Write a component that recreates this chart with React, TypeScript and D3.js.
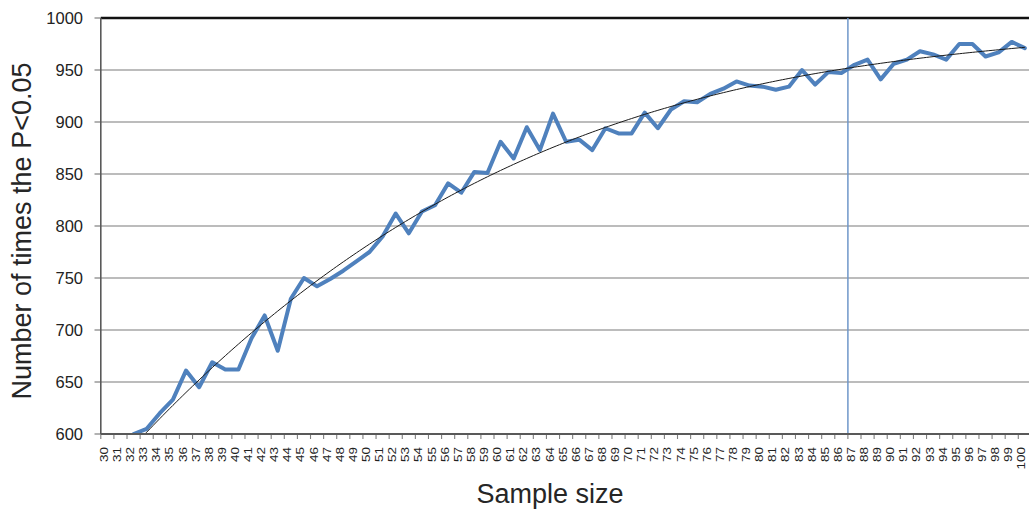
import React from "react";
import * as d3 from "d3";

const categories: number[] = d3.range(30, 101);
const counts: (number | null)[] = [
  null, null, 600, 605, 620, 633, 661, 645, 669, 662,
  662, 692, 714, 680, 730, 750, 742, 749, 757, 766,
  775, 790, 812, 793, 814, 820, 841, 832, 852, 851,
  881, 865, 895, 873, 908, 881, 883, 873, 894, 889,
  889, 909, 894, 912, 920, 919, 927, 932, 939, 935,
  934, 931, 934, 950, 936, 948, 947, 955, 960, 941,
  956, 960, 968, 965, 960, 975, 975, 963, 967, 977,
  971,
];
const yTicks: number[] = [600, 650, 700, 750, 800, 850, 900, 950, 1000];
const markerAfter = 86;
const yTitle = "Number of times the P<0.05";
const xTitle = "Sample size";

// least-squares polynomial (cubic) trendline, as the spreadsheet does
function polyFit(xs: number[], ys: number[], deg: number) {
  const n = deg + 1;
  const A: number[][] = Array.from({ length: n }, () => new Array(n + 1).fill(0));
  const norm = (x: number) => (x - 65) / 35;
  xs.forEach((x, k) => {
    const t = norm(x);
    for (let i = 0; i < n; i++) {
      for (let j = 0; j < n; j++) A[i][j] += Math.pow(t, i + j);
      A[i][n] += ys[k] * Math.pow(t, i);
    }
  });
  for (let c = 0; c < n; c++) {
    let p = c;
    for (let r = c + 1; r < n; r++) if (Math.abs(A[r][c]) > Math.abs(A[p][c])) p = r;
    [A[c], A[p]] = [A[p], A[c]];
    for (let r = 0; r < n; r++) {
      if (r === c) continue;
      const f = A[r][c] / A[c][c];
      for (let k = c; k <= n; k++) A[r][k] -= f * A[c][k];
    }
  }
  const coef = A.map((row, i) => row[n] / row[i]);
  return (x: number) => coef.reduce((s, a, i) => s + a * Math.pow(norm(x), i), 0);
}

export default function App() {
  const W = 1029, H = 509;
  const L = 100.8, T = 18, B = 434;
  const step = 13.107;
  const R = L + categories.length * step;

  const x = d3.scaleBand<number>().domain(categories).range([L, R]).padding(0);
  const y = d3.scaleLinear().domain([600, 1000]).range([B, T]);
  const cx = (c: number) => (x(c) as number) + x.bandwidth() / 2;

  const pts = categories
    .map((c, i) => ({ c, v: counts[i] }))
    .filter((d) => d.v !== null) as { c: number; v: number }[];
  const line = d3
    .line<{ c: number; v: number }>()
    .x((d) => cx(d.c))
    .y((d) => y(d.v));

  const fit = polyFit(pts.map((d) => d.c), pts.map((d) => d.v), 3);
  const trendPts = d3.range(30, 100.001, 0.25).map((c) => ({ c, v: fit(c) }));
  const trendLine = d3
    .line<{ c: number; v: number }>()
    .x((d) => cx(30) + (d.c - 30) * x.step())
    .y((d) => y(d.v));

  const markerX = (x(markerAfter) as number) + x.bandwidth();
  const font = "'Liberation Sans', Arial, sans-serif";

  return (
    <svg width={W} height={H} style={{ position: "absolute", left: 0, top: 0, background: "#fff" }}>
      <defs>
        <clipPath id="plot">
          <rect x={L} y={T} width={R - L} height={B - T} />
        </clipPath>
      </defs>
      {/* gridlines */}
      {yTicks.slice(1, -1).map((t) => (
        <line key={t} x1={L} x2={R} y1={y(t)} y2={y(t)} stroke="#a6a6a6" strokeWidth={1.3} />
      ))}
      {/* y tick marks */}
      {yTicks.map((t) => (
        <line key={"yt" + t} x1={94.5} x2={L} y1={y(t)} y2={y(t)} stroke="#7f7f7f" strokeWidth={1.2} />
      ))}
      {/* top border */}
      <line x1={L} x2={R} y1={T} y2={T} stroke="#111" strokeWidth={2.5} />
      {/* left axis */}
      <line x1={L} x2={L} y1={T} y2={B} stroke="#595959" strokeWidth={1.6} />
      {/* x tick marks */}
      {categories.map((c) => (
        <line key={"xt" + c} x1={x(c) as number} x2={x(c) as number} y1={B} y2={B + 5} stroke="#7f7f7f" strokeWidth={1.1} />
      ))}
      {/* marker line */}
      <line x1={markerX} x2={markerX} y1={T} y2={B} stroke="#6f97c9" strokeWidth={1.5} />
      <g clipPath="url(#plot)">
        <path d={line(pts) || ""} fill="none" stroke="#4f81bd" strokeWidth={4} strokeLinejoin="round" strokeLinecap="round" />
        <path d={trendLine(trendPts) || ""} fill="none" stroke="#1a1a1a" strokeWidth={1} />
      </g>
      {/* x axis */}
      <line x1={L} x2={R} y1={B} y2={B} stroke="#595959" strokeWidth={2} />
      {/* y labels */}
      {yTicks.map((t) => (
        <text key={"yl" + t} x={83} y={y(t)} dy="0.35em" textAnchor="end" fontFamily={font} fontSize={16.5} fill="#222">
          {t}
        </text>
      ))}
      {/* x labels */}
      {categories.map((c) => (
        <text
          key={"xl" + c}
          transform={`translate(${cx(c) - 3},447) rotate(-90) scale(1.35,1)`}
          dy="0.35em"
          textAnchor="end"
          fontFamily={font}
          fontSize={10}
          fill="#222"
        >
          {c}
        </text>
      ))}
      {/* titles */}
      <text transform={`translate(31,231) rotate(-90)`} textAnchor="middle" fontFamily={font} fontSize={27} fill="#262626">
        {yTitle}
      </text>
      <text x={550} y={503} textAnchor="middle" fontFamily={font} fontSize={27} fill="#262626">
        {xTitle}
      </text>
    </svg>
  );
}
